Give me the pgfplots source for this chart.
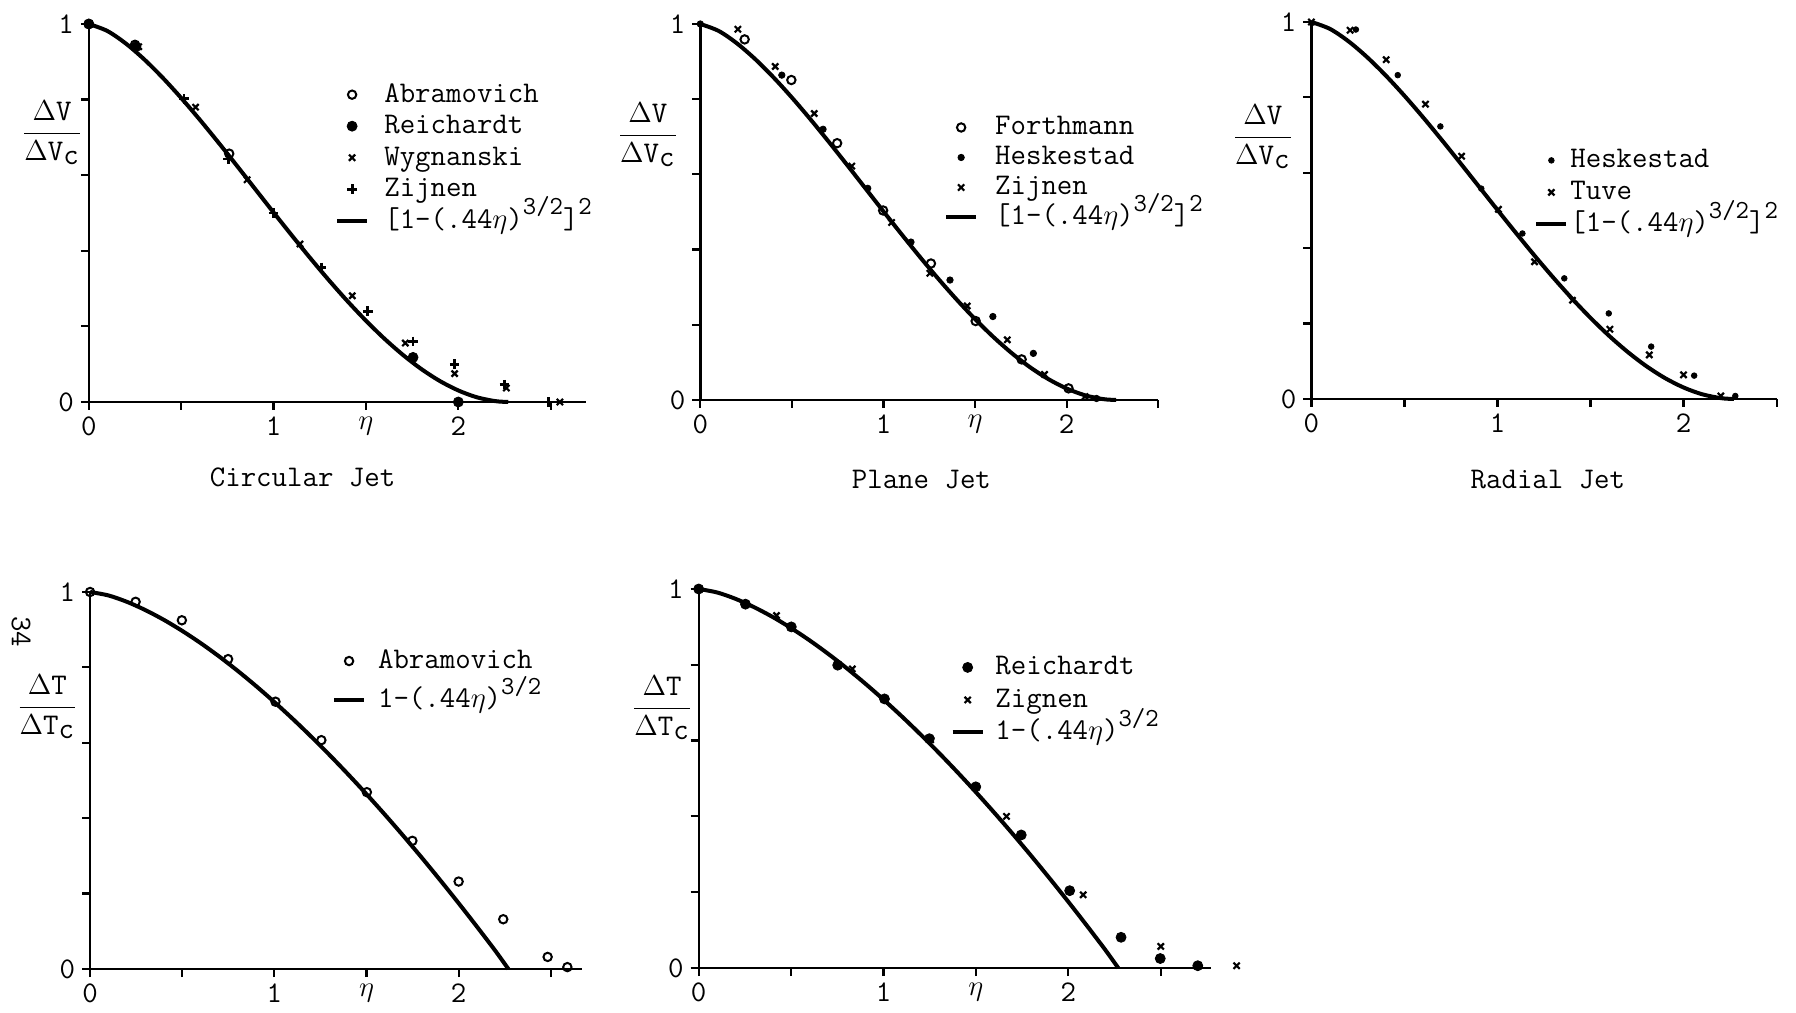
\documentclass[border=0pt]{standalone}
\usepackage{fontspec}
\usepackage{pgfplots}
\pgfplotsset{compat=1.18}
\newcommand{\tf}{\ttfamily\fontsize{15}{15}\selectfont}
\newcommand{\supx}[1]{\raisebox{0.45em}{\fontsize{13}{13}\selectfont #1}}
\pgfplotsset{
 jet/.style={
  scale only axis, axis lines=left, axis line style={-, line width=1.2pt},
  xmin=0, ymin=0, ymax=1, enlargelimits=false, clip=false,
  xtick={0,0.5,1,1.5,2,2.5}, xticklabels={0,,1,$\eta$,2,},
  ytick={0,0.2,0.4,0.6,0.8,1}, yticklabels={0,,,,,1},
  tick align=outside, major tick length=4pt,
  tick style={black, line width=1.1pt},
  tick label style={font=\tf},
  legend cell align=left,
  legend image code/.code={\draw[mark repeat=2,mark phase=2,##1] plot coordinates {(0pt,0pt) (7.5pt,0pt) (15pt,0pt)};},
  legend style={anchor=north west, draw=none, fill=none, inner sep=0pt, outer sep=0pt, font=\tf,
    nodes={inner sep=1pt, text height=10.5pt, text depth=3pt}},
 },
 curve/.style={black, line width=2pt, smooth, mark=none},
 mo/.style={only marks, mark=o, mark size=2.1pt, mark options={line width=1pt}, black},
 mf/.style={only marks, mark=*, mark size=2.5pt, black},
 md/.style={only marks, mark=*, mark size=1.6pt, black},
 mx/.style={only marks, mark=x, mark size=2.2pt, mark options={line width=1.1pt}, black},
 mp/.style={only marks, mark=+, mark size=2.4pt, mark options={line width=1.4pt}, black},
}
\pgfplotstableread{
x y
0 1
0.1 0.9816
0.2 0.9485
0.3 0.9064
0.4 0.8578
0.5 0.8043
0.6 0.7472
0.7 0.6874
0.8 0.6260
0.9 0.5637
1.0 0.5014
1.1 0.4400
1.2 0.3798
1.3 0.3219
1.4 0.2668
1.5 0.2151
1.6 0.1675
1.7 0.1247
1.8 0.0871
1.9 0.0555
2.0 0.0305
2.1 0.0125
2.2 0.0023
2.27 0
}\curvesq
\pgfplotstableread{
x y
0 1
0.1 0.9908
0.2 0.9739
0.3 0.9520
0.4 0.9262
0.5 0.8968
0.6 0.8644
0.7 0.8291
0.8 0.7912
0.9 0.7508
1.0 0.7081
1.1 0.6633
1.2 0.6163
1.3 0.5674
1.4 0.5165
1.5 0.4638
1.6 0.4093
1.7 0.3531
1.8 0.2952
1.9 0.2356
2.0 0.1745
2.1 0.1118
2.2 0.0476
2.27 0
}\curvelin
\begin{document}
\begin{tikzpicture}
\useasboundingbox (0,0) rectangle (898pt,506.5pt);
\node[rotate=-90, font=\tf] at (10.5pt,190.5pt) {34};

% Panel 1: Circular Jet
\begin{axis}[jet, at={(44.4pt,305.5pt)}, anchor=south west, width=248.5pt, height=189pt, xmax=2.69,
  legend style={at={(axis cs:1.344,0.854)}, xshift=-1pt, column sep=6.6pt, row sep=0.25pt}]
\addplot[mo] coordinates {(0,1) (0.25,0.945) (0.76,0.657)};
\addlegendentry{Abramovich}
\addplot[mf] coordinates {(0,1) (0.255,0.94) (1.755,0.118) (2.0,0.0)};
\addlegendentry{Reichardt}
\addplot[mx] coordinates {(0.27,0.94) (0.578,0.78) (0.857,0.588) (1.143,0.418) (1.426,0.281) (1.713,0.156) (1.98,0.075) (2.26,0.037) (2.55,0.0)};
\addlegendentry{Wygnanski}
\addplot[mp] coordinates {(0.515,0.802) (0.755,0.643) (1.0,0.5) (1.26,0.356) (1.51,0.24) (1.755,0.16) (1.98,0.10) (2.25,0.046) (2.49,0.0)};
\addlegendentry{Zijnen}
\addplot[curve] table {\curvesq};
\addlegendentry{[1-(.44$\eta$)\supx{3/2}]\supx{2}}
\node[font=\tf] at (axis cs:1.157,0) [yshift=-37.5pt] {Circular Jet};
\node at (axis cs:-0.199,0.712) {\fontsize{15}{15}\selectfont$\displaystyle\frac{\Delta\texttt{V}}{\Delta\texttt{V}_{\texttt{c}}}$};
\end{axis}

% Panel 2: Plane Jet
\begin{axis}[jet, at={(350.15pt,306.5pt)}, anchor=south west, width=229pt, height=188pt, xmax=2.5,
  legend style={at={(axis cs:1.342,0.766)}, xshift=-1pt, column sep=7.5pt, row sep=-0.5pt}]
\addplot[mo] coordinates {(0.242,0.959) (0.497,0.851) (0.747,0.683) (0.998,0.504) (1.259,0.363) (1.503,0.21) (1.754,0.108) (2.01,0.031)};
\addlegendentry{Forthmann}
\addplot[md] coordinates {(0,1) (0.445,0.864) (0.67,0.72) (0.914,0.563) (1.15,0.42) (1.363,0.319) (1.597,0.222) (1.818,0.124) (2.163,0.004)};
\addlegendentry{Heskestad}
\addplot[mx] coordinates {(0.205,0.986) (0.409,0.887) (0.622,0.762) (0.827,0.622) (1.044,0.472) (1.253,0.337) (1.457,0.25) (1.676,0.16) (1.879,0.068) (2.10,0.009)};
\addlegendentry{Zijnen}
\addplot[curve] table {\curvesq};
\addlegendentry{[1-(.44$\eta$)\supx{3/2}]\supx{2}}
\node[font=\tf] at (axis cs:1.207,0) [yshift=-40pt] {Plane Jet};
\node at (axis cs:-0.286,0.705) {\fontsize{15}{15}\selectfont$\displaystyle\frac{\Delta\texttt{V}}{\Delta\texttt{V}_{\texttt{c}}}$};
\end{axis}

% Panel 3: Radial Jet
\begin{axis}[jet, at={(655.7pt,307pt)}, anchor=south west, width=232.6pt, height=188.5pt, xmax=2.5,
  xticklabels={0,,1,,2,},
  legend style={at={(axis cs:1.209,0.674)}, xshift=-1pt, column sep=0pt, row sep=0.5pt}]
\addplot[md, mark size=1.4pt] coordinates {(0.239,0.98) (0.464,0.859) (0.693,0.723) (0.913,0.558) (1.134,0.439) (1.359,0.32) (1.598,0.227) (1.826,0.139) (2.057,0.062) (2.278,0.008)};
\addlegendentry{Heskestad}
\addplot[mx] coordinates {(0,1) (0.208,0.978) (0.402,0.9) (0.613,0.782) (0.807,0.644) (1.005,0.503) (1.199,0.364) (1.403,0.262) (1.604,0.185) (1.816,0.117) (2.0,0.064) (2.2,0.008)};
\addlegendentry{Tuve}
\addplot[curve] table {\curvesq};
\addlegendentry{[1-(.44$\eta$)\supx{3/2}]\supx{2}}
\node[font=\tf] at (axis cs:1.271,0) [yshift=-40.5pt] {Radial Jet};
\node at (axis cs:-0.261,0.695) {\fontsize{15}{15}\selectfont$\displaystyle\frac{\Delta\texttt{V}}{\Delta\texttt{V}_{\texttt{c}}}$};
\end{axis}

% Panel 4
\begin{axis}[jet, at={(45.05pt,22pt)}, anchor=south west, width=246pt, height=188.5pt, xmax=2.67,
  legend style={at={(axis cs:1.324,0.858)}, xshift=-1pt, column sep=5pt, row sep=4pt}]
\addplot[mo] coordinates {(0,1) (0.247,0.974) (0.498,0.925) (0.749,0.822) (1.006,0.709) (1.255,0.607) (1.502,0.469) (1.749,0.340) (2.0,0.232) (2.242,0.132) (2.483,0.032) (2.59,0.005)};
\addlegendentry{Abramovich}
\addplot[curve] table {\curvelin};
\addlegendentry{1-(.44$\eta$)\supx{3/2}}
\node at (axis cs:-0.232,0.695) {\fontsize{15}{15}\selectfont$\displaystyle\frac{\Delta\texttt{T}}{\Delta\texttt{T}_{\texttt{c}}}$};
\end{axis}

% Panel 5
\begin{axis}[jet, at={(349.35pt,22.5pt)}, anchor=south west, width=256pt, height=189.5pt, xmax=2.77,
  legend style={at={(axis cs:1.374,0.834)}, xshift=-1pt, column sep=4.4pt, row sep=0.75pt}]
\addplot[mf] coordinates {(0,1) (0.253,0.960) (0.501,0.900) (0.752,0.799) (1.005,0.710) (1.248,0.605) (1.499,0.478) (1.745,0.351) (2.007,0.204) (2.285,0.081) (2.497,0.025) (2.70,0.006)};
\addlegendentry{Reichardt}
\addplot[mx] coordinates {(0.421,0.930) (0.831,0.789) (1.255,0.602) (1.665,0.400) (2.08,0.193) (2.50,0.057) (2.91,0.006)};
\addlegendentry{Zignen}
\addplot[curve] table {\curvelin};
\addlegendentry{1-(.44$\eta$)\supx{3/2}}
\node at (axis cs:-0.198,0.686) {\fontsize{15}{15}\selectfont$\displaystyle\frac{\Delta\texttt{T}}{\Delta\texttt{T}_{\texttt{c}}}$};
\end{axis}
\end{tikzpicture}
\end{document}
